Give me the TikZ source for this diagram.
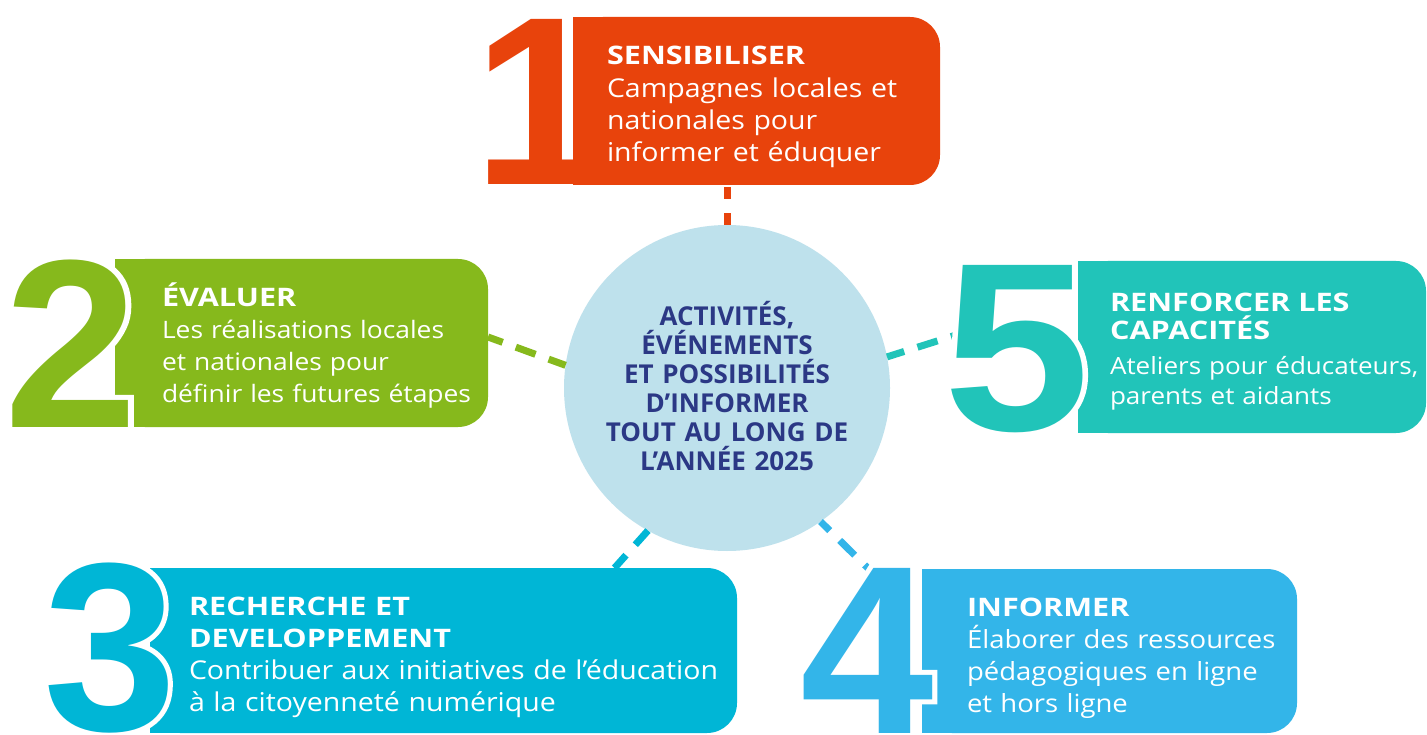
\documentclass[tikz,border=0pt]{standalone}
\usepackage{fontspec}
\setmainfont{Open Sans}
\newfontfamily\bodyfont[FakeStretch=1.1]{Open Sans}
\newfontfamily\titlefont[FakeStretch=1.2]{Open Sans}
\newfontfamily\circfont{Open Sans}
\newfontfamily\digitfont{Liberation Sans Bold}
\newfontfamily\halofont[FakeBold=4.2]{Liberation Sans Bold}
\newcommand\boxtitle[1]{{\titlefont\bfseries\fontsize{25.5pt}{32pt}\selectfont #1}}
\newcommand\haloed[1]{\rlap{\halofont\color{white}#1}#1}
\definecolor{cOrange}{HTML}{E8430C}
\definecolor{cGreen}{HTML}{86B91C}
\definecolor{cCyan}{HTML}{00B6D6}
\definecolor{cBlue}{HTML}{33B5E9}
\definecolor{cTeal}{HTML}{21C4B9}
\definecolor{cCircle}{HTML}{BEE1EC}
\definecolor{cNavy}{HTML}{2B3885}
\tikzset{
  conn/.style={line width=7pt, dash pattern=on 21pt off 14pt},
  boxshape/.style={inner sep=0pt, outer sep=0pt, rounded corners=30pt, anchor=north west},
  digit/.style={inner sep=0pt, outer sep=0pt, anchor=base west,
    font=\digitfont\fontsize{240pt}{240pt}\selectfont},
  boxtext/.style={inner sep=0pt, outer sep=0pt, anchor=base west, text=white,
    align=left, text width=560pt},
}
\begin{document}
\begin{tikzpicture}[x=1pt,y=-1pt]
\fill[white] (0,0) rectangle (1427,735);
\useasboundingbox (0,0) rectangle (1427,735);

% centre
\node[circle, fill=cCircle, minimum size=326pt, inner sep=0pt, outer sep=0pt] (c) at (727,388) {};

% boxes
\node[boxshape, fill=cOrange, minimum width=367pt, minimum height=168pt] (b1) at (573,17) {};
\node[boxshape, fill=cGreen, minimum width=373pt, minimum height=168pt] (b2) at (115,259) {};
\node[boxshape, fill=cCyan, minimum width=587pt, minimum height=165pt] (b3) at (150,568) {};
\node[boxshape, fill=cBlue, minimum width=375pt, minimum height=164pt] (b4) at (922,569) {};
\node[boxshape, fill=cTeal, minimum width=348pt, minimum height=172pt] (b5) at (1078,261) {};
\fill[cOrange] (b1.north west) rectangle ([xshift=40pt]b1.south west);
\fill[cGreen] (b2.north west) rectangle ([xshift=40pt]b2.south west);
\fill[cCyan] (b3.north west) rectangle ([xshift=40pt]b3.south west);
\fill[cBlue] (b4.north west) rectangle ([xshift=40pt]b4.south west);
\fill[cTeal] (b5.north west) rectangle ([xshift=40pt]b5.south west);

% connectors
\coordinate (e4) at (884,584);
\coordinate (e5) at (975,329);
\draw[conn, cOrange, dash pattern=on 12pt off 14pt] (c.north) -- (c.north |- b1.south);
\draw[conn, cGreen, dash phase=3pt] (c.172) -- ([yshift=6pt]b2.east);
\draw[conn, cCyan, dash phase=2pt] (c.241) -- ([xshift=171pt]b3.north);
\draw[conn, cBlue, dash phase=8pt] (c.305) -- (e4);
\draw[conn, cTeal, dash phase=3pt] (c.11) -- (e5);

% digits
\node[digit, text=cOrange] (d1) at (473,185) {1};
\node[digit, text=cGreen] (d2) at (5,427) {\haloed{2}};
\node[digit, text=cCyan] (d3) at (43,730) {\haloed{3}};
\node[digit, text=cBlue] (d4) at (800,733) {\haloed{4}};
\node[digit, text=cTeal] (d5) at (943,430) {\scalebox{1.1}[1]{\haloed{5}}};

% texts
\node[boxtext, font=\bodyfont\fontsize{25.9pt}{32.3pt}\selectfont] (t1) at (607,65)
  {\boxtitle{SENSIBILISER}\\Campagnes locales et\\nationales pour\\informer et éduquer};
\node[boxtext, font=\bodyfont\fontsize{24pt}{31.7pt}\selectfont] (t2) at (162,307)
  {\boxtitle{ÉVALUER}\\Les réalisations locales\\et nationales pour\\définir les futures étapes};
\node[boxtext, font=\bodyfont\fontsize{25.9pt}{32pt}\selectfont] (t3) at (189,615)
  {\boxtitle{RECHERCHE ET}\\\boxtitle{DEVELOPPEMENT}\\Contribuer aux initiatives de l’éducation\\à la citoyenneté numérique};
\node[boxtext, font=\bodyfont\fontsize{25pt}{32pt}\selectfont] (t4) at (967,616)
  {\boxtitle{INFORMER}\\Élaborer des ressources\\pédagogiques en ligne\\et hors ligne};
\node[boxtext, font=\bodyfont\fontsize{23.7pt}{30pt}\selectfont] (t5) at (1110,312)
  {\boxtitle{RENFORCER LES}\\[-2pt]\boxtitle{CAPACITÉS}\\[5pt]Ateliers pour éducateurs,\\parents et aidants};
\node[inner sep=0pt, outer sep=0pt, anchor=base, text=cNavy, align=center, text width=320pt,
  font=\circfont\bfseries\fontsize{26pt}{29pt}\selectfont] (ct) at (727,326)
  {ACTIVITÉS,\\ÉVÉNEMENTS\\ET POSSIBILITÉS\\D’INFORMER\\TOUT AU LONG DE\\L’ANNÉE 2025};
\end{tikzpicture}
\end{document}
